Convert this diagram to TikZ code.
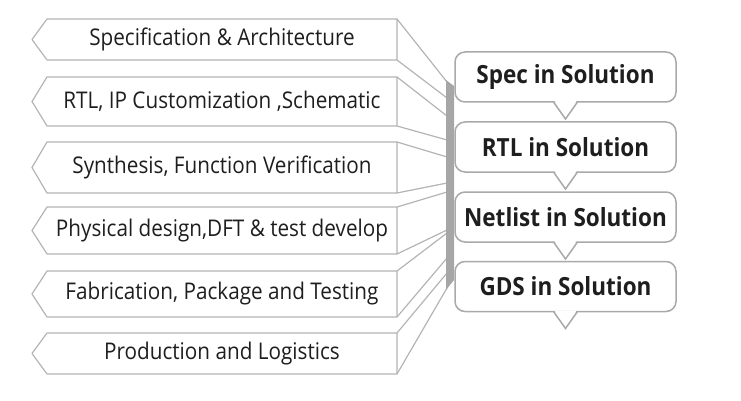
\documentclass[tikz,border=0pt]{standalone}
\usepackage{fontspec}
\setmainfont{Open Sans}[FakeStretch=0.9]
\usetikzlibrary{calc}
\definecolor{edgegray}{HTML}{B4B4B4}
\definecolor{bargray}{HTML}{A6A6A7}
\definecolor{boxgray}{HTML}{A9A9A9}
\definecolor{inkgray}{HTML}{1E1E1E}
\tikzstyle{stage}=[rectangle,minimum width=350pt,inner sep=0pt,outer sep=0pt,text=inkgray,font=\fontsize{23}{26}\selectfont]
\tikzstyle{solution}=[rectangle,draw=boxgray,line width=1.5pt,rounded corners=10pt,fill=white,minimum width=221pt,minimum height=50pt,outer sep=0pt,text=inkgray,font=\bfseries\fontsize{25}{28}\selectfont]
\tikzstyle{fold}=[draw=edgegray,line width=1.2pt,line join=round]

\begin{document}
\begin{tikzpicture}[x=1pt,y=-1pt]
        \useasboundingbox (0,0) rectangle (741,401);
        % stages on the left
        \node[stage,minimum height=41pt] (spec) at (222,39.5) {Specification \& Architecture};
        \node[stage,minimum height=49pt] (rtl) at (222,101.5) {RTL, IP Customization ,Schematic};
        \node[stage,minimum height=51pt] (synth) at (222,167.5) {Synthesis, Function Verification};
        \node[stage,minimum height=47pt] (phys) at (222,230.5) {Physical design,DFT \& test develop};
        \node[stage,minimum height=46pt] (fab) at (222,294) {Fabrication, Package and Testing};
        \node[stage,minimum height=41pt] (prod) at (222,353.5) {Production and Logistics};
        \foreach \n in {spec,rtl,synth,phys,fab,prod}
          \draw[fold] (\n.north east) -- (\n.north west) -- ([xshift=-15pt]\n.west)
            -- (\n.south west) -- (\n.south east) -- cycle;
        % folds to the bar
        \coordinate (spect) at (447,82);   \coordinate (specb) at (447,98);
        \coordinate (rtlt) at (447,116);   \coordinate (rtlb) at (447,140);
        \coordinate (syntht) at (447,157); \coordinate (synthb) at (447,183);
        \coordinate (physt) at (447,192);  \coordinate (physb) at (447,230);
        \coordinate (fabt) at (447,233);   \coordinate (fabb) at (447,258);
        \coordinate (prodt) at (447,273);  \coordinate (prodb) at (447,288);
        \foreach \n in {spec,rtl,synth,phys,fab,prod} {
          \draw[fold] (\n.north east) -- (\n t);
          \draw[fold] (\n.south east) -- (\n b);
        }
        \fill[bargray] (446,80) -- (454,86) -- (454,280) -- (446,290) -- cycle;
        % solutions on the right
        \node[solution] (specsol) at (565.5,77) {Spec in Solution};
        \node[solution] (rtlsol) at (565.5,147) {RTL in Solution};
        \node[solution] (netsol) at (565.5,217) {Netlist in Solution};
        \node[solution] (gdssol) at (565.5,286.5) {GDS in Solution};
        \foreach \n in {specsol,rtlsol,netsol,gdssol} {
          \fill[white] ([xshift=-11pt,yshift=1pt]\n.south) -- ([yshift=-17pt]\n.south)
            -- ([xshift=11pt,yshift=1pt]\n.south) -- cycle;
          \draw[draw=boxgray,line width=1.5pt] ([xshift=-12pt]\n.south)
            -- ([yshift=-17pt]\n.south) -- ([xshift=12pt]\n.south);
        }
      \end{tikzpicture}
\end{document}
